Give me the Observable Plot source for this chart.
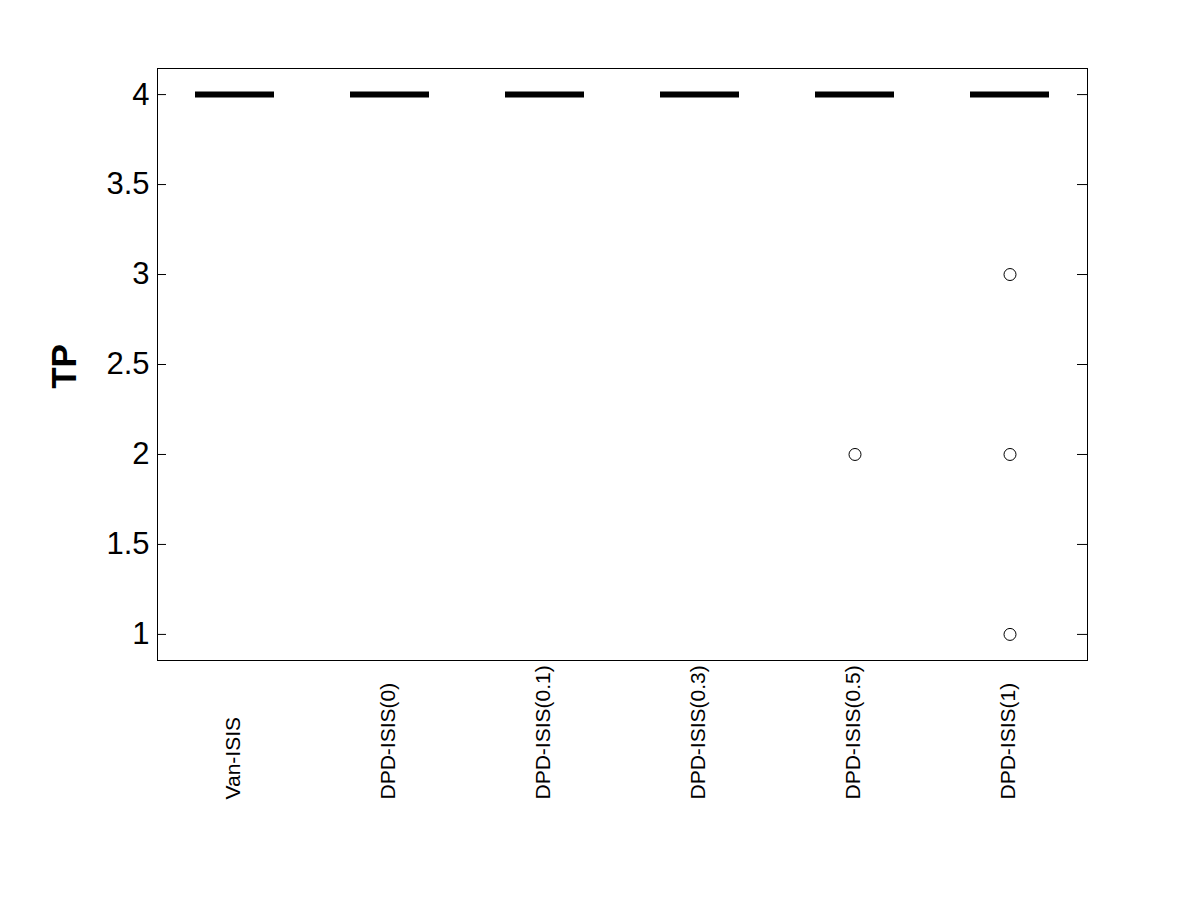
<!DOCTYPE html>
<html>
<head>
<meta charset="utf-8">
<script src="https://cdn.jsdelivr.net/npm/d3@7"></script>
<script src="https://cdn.jsdelivr.net/npm/@observablehq/plot@0.6"></script>
<style>
  html, body { margin: 0; padding: 0; background: #fff; overflow: hidden; }
  svg { display: block; }
</style>
</head>
<body>
<div id="chart"></div>
<script>
const categories = ["Van-ISIS", "DPD-ISIS(0)", "DPD-ISIS(0.1)", "DPD-ISIS(0.3)", "DPD-ISIS(0.5)", "DPD-ISIS(1)"];
const medians = [4, 4, 4, 4, 4, 4];
const outlierCats = ["DPD-ISIS(0.5)", "DPD-ISIS(1)", "DPD-ISIS(1)", "DPD-ISIS(1)"];
const outlierValues = [2, 3, 2, 1];
const yTicks = [1, 1.5, 2, 2.5, 3, 3.5, 4];

const medianData = categories.map((c, i) => ({cat: c, v: medians[i]}));
const outlierData = outlierCats.map((c, i) => ({cat: c, v: outlierValues[i]}));

const W = 1200, H = 900;
const mL = 157, mR = 113, mT = 68, mB = 240;
const innerW = W - mL - mR;

const chart = Plot.plot({
  width: W,
  height: H,
  marginLeft: mL,
  marginRight: mR,
  marginTop: mT,
  marginBottom: mB,
  style: {fontFamily: "'Liberation Sans', Arial, sans-serif", background: "#fff", color: "#000"},
  x: {type: "band", domain: categories, paddingInner: 0.49, paddingOuter: 0.245, axis: null},
  y: {domain: [0.855, 4.145], axis: null},
  marks: [
    Plot.frame({stroke: "#000", strokeWidth: 1}),
    Plot.ruleY(yTicks, {stroke: "#000", strokeWidth: 1, insetRight: innerW - 9}),
    Plot.ruleY(yTicks, {stroke: "#000", strokeWidth: 1, insetLeft: innerW - 10}),
    Plot.axisY({ticks: yTicks, tickSize: 0, tickPadding: 8, fontSize: 31, tickFormat: d => String(d), label: null}),
    Plot.tickY(medianData, {x: "cat", y: "v", stroke: "#000", strokeWidth: 6}),
    Plot.dot(outlierData, {x: "cat", y: "v", r: 6, stroke: "#000", fill: "none", strokeWidth: 1}),
    Plot.text(categories, {x: d => d, frameAnchor: "bottom", dy: 139, dx: 5, rotate: -90, textAnchor: "start", fontSize: 21, fill: "#000"}),
    Plot.text(["TP"], {frameAnchor: "left", dx: -93, dy: 2, rotate: -90, textAnchor: "middle", fontSize: 35, fontWeight: "bold", fill: "#000"})
  ]
});
document.getElementById("chart").append(chart);
</script>
</body>
</html>
